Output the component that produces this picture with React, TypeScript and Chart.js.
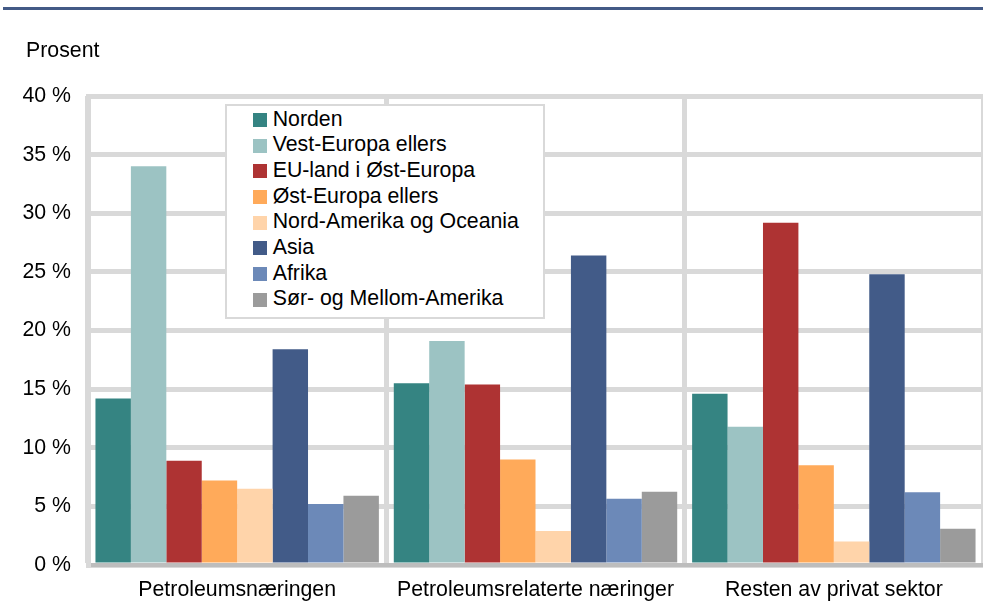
import React, { useEffect, useRef } from "react";
import { Chart, registerables } from "chart.js";

Chart.register(...registerables);

const categories = ["Petroleumsnæringen", "Petroleumsrelaterte næringer", "Resten av privat sektor"];

const seriesNames = [
  "Norden",
  "Vest-Europa ellers",
  "EU-land i Øst-Europa",
  "Øst-Europa ellers",
  "Nord-Amerika og Oceania",
  "Asia",
  "Afrika",
  "Sør- og Mellom-Amerika",
];

const norden = [14.2, 15.5, 14.6];
const vestEuropa = [34.0, 19.1, 11.8];
const euOstEuropa = [8.9, 15.4, 29.2];
const ostEuropa = [7.2, 9.0, 8.5];
const nordAmerika = [6.5, 2.9, 2.0];
const asia = [18.4, 26.4, 24.8];
const afrika = [5.2, 5.65, 6.2];
const sorAmerika = [5.9, 6.25, 3.1];

const seriesValues = [norden, vestEuropa, euOstEuropa, ostEuropa, nordAmerika, asia, afrika, sorAmerika];

const seriesColors = ["#358482", "#9cc3c3", "#ae3333", "#ffaa5a", "#ffd4aa", "#425b88", "#6c89b8", "#9b9b9b"];

const yTicks = [0, 5, 10, 15, 20, 25, 30, 35, 40];

const FONT = "'Liberation Sans', Arial, sans-serif";
const FS = 21.3;

export default function App() {
  const canvasRef = useRef<HTMLCanvasElement | null>(null);

  useEffect(() => {
    if (!canvasRef.current) return;
    const chart = new Chart(canvasRef.current, {
      type: "bar",
      data: {
        labels: categories,
        datasets: seriesNames.map((name, i) => ({
          label: name,
          data: seriesValues[i],
          backgroundColor: seriesColors[i],
          borderWidth: 0,
          categoryPercentage: 0.95,
          barPercentage: 1.0,
        })),
      },
      options: {
        responsive: false,
        animation: false,
        devicePixelRatio: 1,
        layout: { padding: { top: 96, left: 0, right: 0, bottom: 0 } },
        plugins: {
          legend: { display: false },
          tooltip: { enabled: false },
          title: { display: false },
        },
        scales: {
          x: {
            grid: { color: "#d9d9d9", lineWidth: 5, drawTicks: false, offset: true },
            border: { display: true, color: "#bdbdbd", width: 4 },
            ticks: { color: "#000", font: { family: FONT, size: FS }, padding: 12, maxRotation: 0 },
            afterFit: (scale: any) => {
              scale.height = 51;
            },
          },
          y: {
            min: yTicks[0],
            max: yTicks[yTicks.length - 1],
            afterBuildTicks: (scale: any) => {
              scale.ticks = yTicks.map((v) => ({ value: v }));
            },
            grid: { color: "#d9d9d9", lineWidth: 5, drawTicks: false },
            border: { display: true, color: "#d9d9d9", width: 5 },
            ticks: {
              color: "#000",
              font: { family: FONT, size: FS },
              padding: 17,
              callback: (v: any) => `${v} %`,
            },
            afterFit: (scale: any) => {
              scale.width = 88;
            },
          },
        },
      },
    });
    return () => chart.destroy();
  }, []);

  const rowH = 25.71;

  return (
    <div style={{ position: "fixed", left: 0, top: 0, width: 983, height: 616, background: "#fff", overflow: "hidden", fontFamily: FONT }}>
      <div style={{ position: "absolute", left: 3, top: 7, width: 980, height: 3, background: "#435a86" }} />
      <canvas ref={canvasRef} width={983} height={616} style={{ position: "absolute", left: 0, top: 0, width: 983, height: 616 }} />
      <div style={{ position: "absolute", left: 26, top: 40.3, fontSize: FS, lineHeight: `${FS}px`, color: "#000", whiteSpace: "nowrap" }}>Prosent</div>
      <div
        style={{
          position: "absolute",
          left: 225,
          top: 104,
          width: 320,
          height: 215,
          boxSizing: "border-box",
          border: "2px solid #d9d9d9",
          background: "#fff",
        }}
      >
        {seriesNames.map((name, i) => (
          <div key={name} style={{ position: "absolute", left: 0, top: 0.5 + i * rowH, height: rowH, width: "100%" }}>
            <div style={{ position: "absolute", left: 26, top: 6.4, width: 14, height: 14, background: seriesColors[i] }} />
            <div style={{ position: "absolute", left: 45.7, top: 0, fontSize: FS, lineHeight: `${rowH}px`, color: "#000", whiteSpace: "nowrap" }}>{name}</div>
          </div>
        ))}
      </div>
    </div>
  );
}
